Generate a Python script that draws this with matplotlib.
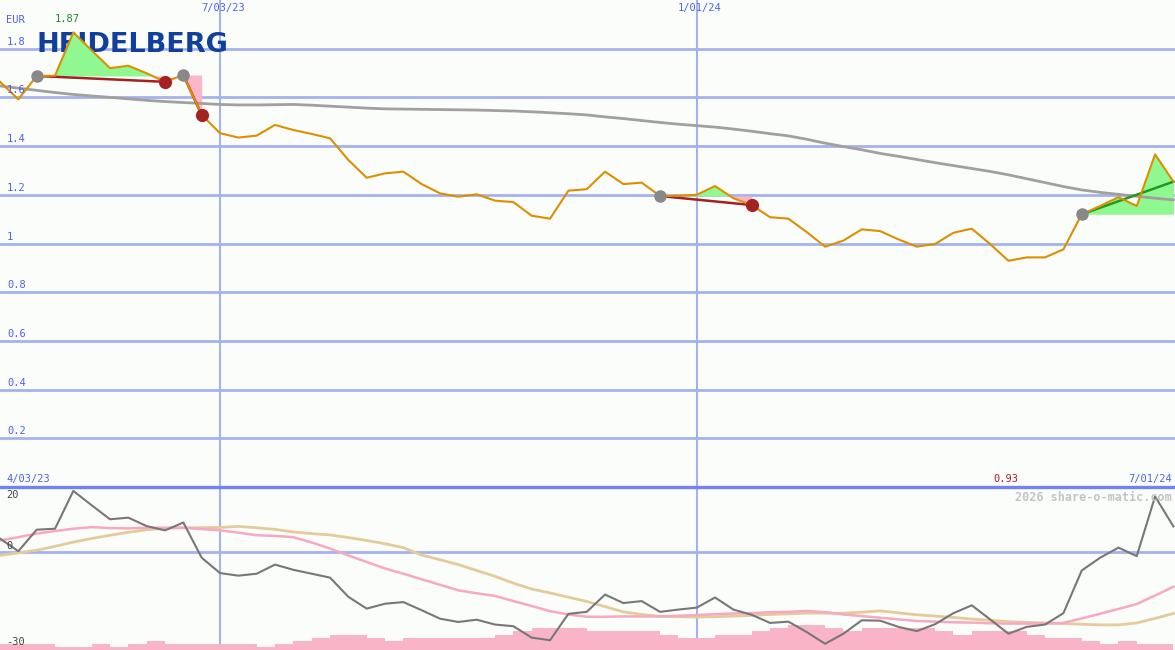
import matplotlib
matplotlib.use('Agg')
import matplotlib.pyplot as plt
import matplotlib.dates as mdates
import numpy as np
import pandas as pd

# weekly closes, EUR
weeks = pd.date_range('2023-04-10', periods=65, freq='7D')
price = [1.664, 1.592, 1.688, 1.689, 1.867, 1.793, 1.720, 1.730, 1.699, 1.664,
         1.692, 1.528, 1.453, 1.435, 1.443, 1.487, 1.466, 1.450, 1.432, 1.343,
         1.270, 1.288, 1.295, 1.244, 1.206, 1.192, 1.202, 1.176, 1.170, 1.114,
         1.102, 1.217, 1.223, 1.295, 1.244, 1.250, 1.195, 1.196, 1.200, 1.236,
         1.186, 1.158, 1.108, 1.102, 1.047, 0.987, 1.012, 1.058, 1.051, 1.017,
         0.987, 0.998, 1.044, 1.061, 0.998, 0.929, 0.943, 0.943, 0.976, 1.120,
         1.154, 1.190, 1.154, 1.366, 1.254]
sma = [1.647, 1.638, 1.629, 1.620, 1.612, 1.606, 1.600, 1.594, 1.588, 1.583,
       1.579, 1.575, 1.571, 1.569, 1.569, 1.570, 1.571, 1.568, 1.564, 1.560,
       1.556, 1.553, 1.552, 1.551, 1.550, 1.549, 1.548, 1.546, 1.544, 1.541,
       1.537, 1.533, 1.528, 1.520, 1.513, 1.505, 1.497, 1.490, 1.484, 1.478,
       1.470, 1.461, 1.451, 1.442, 1.428, 1.412, 1.398, 1.385, 1.370, 1.358,
       1.345, 1.332, 1.320, 1.308, 1.296, 1.282, 1.266, 1.250, 1.234, 1.220,
       1.210, 1.202, 1.194, 1.186, 1.179]

# oscillator panel
momentum = [4.2, 0.3, 6.9, 7.2, 18.8, 14.4, 10.1, 10.6, 8.0, 6.7,
            9.1, -1.7, -6.4, -7.2, -6.6, -3.8, -5.4, -6.6, -7.8, -13.7,
            -17.3, -15.8, -15.3, -17.8, -20.4, -21.4, -20.7, -22.2, -22.7, -26.2,
            -27.0, -18.9, -18.3, -13.0, -15.6, -15.0, -18.3, -17.6, -17.0, -13.9,
            -17.6, -19.2, -21.7, -21.3, -24.5, -28.1, -25.0, -20.9, -21.0, -22.9,
            -24.2, -22.1, -18.7, -16.3, -20.6, -25.0, -22.9, -22.2, -18.7, -5.6,
            -1.7, 1.4, -1.2, 17.1, 7.9]
mom_fast = [3.6, 4.6, 5.7, 6.5, 7.2, 7.7, 7.4, 7.3, 7.5, 7.5,
            7.5, 7.1, 6.7, 6.0, 5.2, 5.0, 4.6, 3.0, 1.1, -1.0,
            -3.0, -5.0, -6.6, -8.3, -10.0, -11.7, -12.6, -13.4, -15.0, -16.5,
            -18.1, -19.1, -19.8, -19.8, -19.7, -19.7, -19.7, -19.5, -19.3, -19.0,
            -18.8, -18.7, -18.4, -18.3, -18.0, -18.4, -19.1, -19.6, -20.1, -20.6,
            -21.1, -21.3, -21.5, -21.6, -21.8, -21.9, -21.9, -21.9, -21.7, -20.3,
            -18.9, -17.4, -15.9, -13.3, -10.6]
mom_slow = [-1.0, -0.2, 0.6, 1.8, 3.1, 4.2, 5.2, 6.1, 6.9, 7.3,
            7.5, 7.5, 7.6, 7.9, 7.5, 7.0, 6.2, 5.7, 5.3, 4.5,
            3.6, 2.6, 1.4, -0.9, -2.3, -3.8, -5.6, -7.4, -9.5, -11.3,
            -12.5, -13.8, -15.1, -16.7, -18.3, -19.1, -19.7, -19.8, -19.9, -19.8,
            -19.6, -19.4, -19.1, -18.9, -18.7, -18.7, -18.7, -18.4, -18.0, -18.6,
            -19.2, -19.6, -20.0, -20.5, -20.9, -21.3, -21.5, -21.7, -21.9, -22.1,
            -22.3, -22.3, -21.7, -20.3, -18.8]
bars = [1.9, 1.9, 1.9, 0.9, 0.9, 1.9, 0.9, 1.9, 2.8, 1.9,
        1.9, 1.9, 1.9, 1.9, 0.9, 1.9, 2.8, 3.7, 4.7, 4.7,
        3.7, 2.8, 3.7, 3.7, 3.7, 3.7, 3.7, 4.7, 5.8, 6.7,
        6.7, 6.7, 5.8, 5.8, 5.8, 5.8, 4.7, 3.7, 3.7, 4.7,
        4.7, 5.8, 6.7, 7.8, 7.8, 6.7, 5.8, 6.7, 6.7, 6.7,
        6.7, 5.8, 4.7, 5.8, 5.8, 5.8, 4.7, 3.7, 3.7, 2.8,
        1.9, 2.8, 1.9, 1.9]

# signals: entry / exit week index
entry_idx = [2, 10, 36, 59]
exit_idx = [9, 11, 41, 64]
open_trade = [False, False, False, True]

vline_dates = ['2023-07-03', '2024-01-01']
vline_labels = ['7/03/23', '1/01/24']
start_label, end_label = '4/03/23', '7/01/24'
price_ticks = [0.2, 0.4, 0.6, 0.8, 1, 1.2, 1.4, 1.6, 1.8]
osc_ticks = [20, 0, -30]

BG = '#fbfdfb'
GRID = '#a4b2ee'
BLUE_TXT = '#5060ee'
MONO = 'DejaVu Sans Mono'

x = mdates.date2num(weeks.to_pydatetime())
price = np.array(price)
xmin, xmax = x[0], x[-1] + 0.6

fig = plt.figure(figsize=(11.75, 6.5), dpi=100, facecolor=BG)
ax = fig.add_axes([0, 163 / 650, 1, 487 / 650])
ax2 = fig.add_axes([0, 0, 1, 163 / 650], sharex=ax)
for a in (ax, ax2):
    a.set_facecolor(BG)
    for s in a.spines.values():
        s.set_visible(False)
    a.set_xticks([])
    a.set_yticks([])
ax.set_xlim(xmin, xmax)
ax.set_ylim(0, 2.0)
ax2.set_ylim(-30, 20)

# grid
for t in price_ticks:
    ax.axhline(t, color=GRID, lw=2, zorder=1)
    ax.annotate(f'{t:g}', xy=(0, t), xycoords=('axes fraction', 'data'), xytext=(7, 2),
                textcoords='offset pixels', va='bottom', ha='left', color=BLUE_TXT,
                family=MONO, fontsize=7.5, zorder=6)
ax2.axhline(20, color='#7282ee', lw=2.4, zorder=5, clip_on=False)
ax2.axhline(0, color=GRID, lw=2, zorder=1)
for d, lab in zip(vline_dates, vline_labels):
    xv = mdates.datestr2num(d)
    ax.axvline(xv, color=GRID, lw=1.5, zorder=1)
    ax2.axvline(xv, color=GRID, lw=1.5, zorder=1)
    ax.annotate(lab, xy=(xv, 1), xycoords=('data', 'axes fraction'), xytext=(3, -3),
                textcoords='offset pixels', va='top', ha='center', color=BLUE_TXT,
                family=MONO, fontsize=7.5)

# logo
ax.text(0.031, 0.908, 'HEIDELBERG', transform=ax.transAxes, color='#113f9c',
        fontsize=19.5, fontweight='bold', family='DejaVu Sans', va='center', ha='left', zorder=1.5)

# signal fills
for e, xo in zip(entry_idx, exit_idx):
    seg = slice(e, xo + 1)
    lvl = price[e]
    ax.fill_between(x[seg], price[seg], lvl, where=price[seg] >= lvl, interpolate=True,
                    color='#90f890', lw=0, zorder=2)
    ax.fill_between(x[seg], price[seg], lvl, where=price[seg] < lvl, interpolate=True,
                    color='#fbb6c8', lw=0, zorder=2)

ax.plot(x, sma, color='#a0a0a0', lw=2, zorder=3)
ax.plot(x, price, color='#dd8f00', lw=1.5, zorder=4)

for e, xo, op in zip(entry_idx, exit_idx, open_trade):
    win = price[xo] > price[e]
    ax.plot([x[e], x[xo]], [price[e], price[xo]], color='#1f9a1f' if win else '#a52020',
            lw=1.8, zorder=3.5)
    ax.plot(x[e], price[e], 'o', color='#888888', ms=9, mec='none', zorder=6)
    if not op:
        ax.plot(x[xo], price[xo], 'o', color='#a52222', ms=9.5, mec='none', zorder=6)

# high / low labels
i_hi, i_lo = int(np.argmax(price)), int(np.argmin(price))
ax.annotate(f'{price[i_hi]:.2f}', xy=(x[i_hi], 1), xycoords=('data', 'axes fraction'),
            xytext=(-6, -14), textcoords='offset pixels', va='top', ha='center',
            color='#1e8c1e', family=MONO, fontsize=7.5)
ax.annotate(f'{price[i_lo]:.2f}', xy=(x[i_lo], 0), xycoords=('data', 'axes fraction'),
            xytext=(-3, 3), textcoords='offset pixels', va='bottom', ha='center',
            color='#a52020', family=MONO, fontsize=7.5)
ax.annotate('EUR', xy=(0, 1), xycoords='axes fraction', xytext=(6, -15),
            textcoords='offset pixels', va='top', ha='left', color=BLUE_TXT, family=MONO, fontsize=7.5)
ax.annotate(start_label, xy=(0, 0), xycoords='axes fraction', xytext=(6, 3),
            textcoords='offset pixels', va='bottom', ha='left', color=BLUE_TXT, family=MONO, fontsize=7.5)
ax.annotate(end_label, xy=(1, 0), xycoords='axes fraction', xytext=(-3, 3),
            textcoords='offset pixels', va='bottom', ha='right', color=BLUE_TXT, family=MONO, fontsize=7.5)

# oscillator panel
ax2.bar(x[:-1], bars, width=7, align='edge', bottom=-30, color='#f9b4c8', lw=0, zorder=2)
ax2.plot(x, mom_slow, color='#e4cb9c', lw=2, zorder=3)
ax2.plot(x, mom_fast, color='#f8a8c0', lw=1.8, zorder=3)
ax2.plot(x, momentum, color='#777777', lw=1.5, zorder=4)
for t in osc_ticks:
    va, dy = ('top', -3) if t == max(osc_ticks) else ('bottom', 3 if t == min(osc_ticks) else 1)
    ax2.annotate(f'{t:g}', xy=(0, t), xycoords=('axes fraction', 'data'), xytext=(6, dy),
                 textcoords='offset pixels', va=va, ha='left', color='#444444',
                 family=MONO, fontsize=7.5, zorder=6)
ax2.annotate('2026 share-o-matic.com', xy=(1, 1), xycoords='axes fraction', xytext=(-3, -4),
             textcoords='offset pixels', va='top', ha='right', color='#c4c4c4',
             family=MONO, fontsize=8.5, fontweight='bold', zorder=6)

fig.savefig('out.png', dpi=100, facecolor=BG)
